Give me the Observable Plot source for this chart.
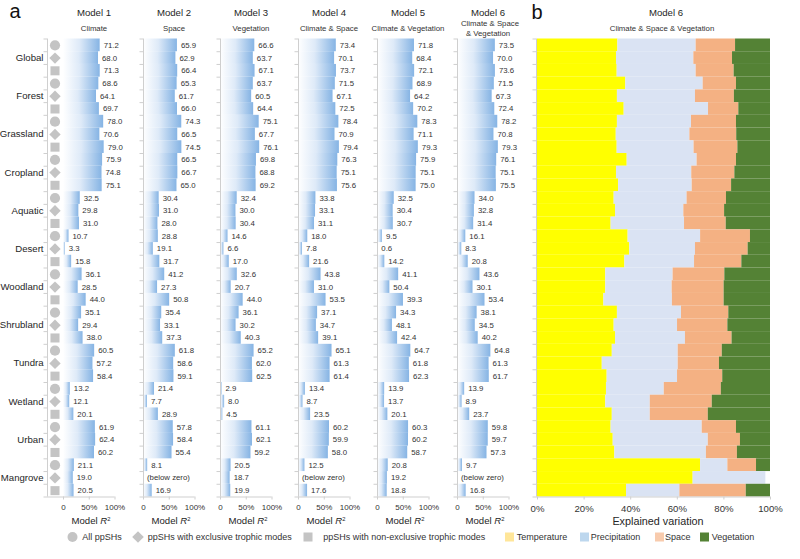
<!DOCTYPE html>
<html><head><meta charset="utf-8">
<script src="https://cdn.jsdelivr.net/npm/d3@7"></script>
<script src="https://cdn.jsdelivr.net/npm/@observablehq/plot@0.6"></script>
<style>
html,body{margin:0;padding:0;background:#fff;}
#root{position:relative;width:800px;height:559px;overflow:hidden;font-family:'Liberation Sans',Arial,sans-serif;color:#333;}
.t{position:absolute;white-space:nowrap;line-height:1;}
</style></head><body><div id="root"></div>
<script>
// ---------------- DATA ----------------
const categories = ["Global","Forest","Grassland","Cropland","Aquatic","Desert","Woodland","Shrubland","Tundra","Wetland","Urban","Mangrove"];
const groups = ["All ppSHs","ppSHs with exclusive trophic modes","ppSHs with non-exclusive trophic modes"];
const modelNames = ["Model 1","Model 2","Model 3","Model 4","Model 5","Model 6"];
const modelSubtitles = [["Climate"],["Space"],["Vegetation"],["Climate & Space"],["Climate & Vegetation"],["Climate & Space","& Vegetation"]];

// Model R2 (%) per row: category x (all, exclusive, non-exclusive); null = below zero
const model1 = [71.2,68.0,71.3, 68.6,64.1,69.7, 78.0,70.6,79.0, 75.9,74.8,75.1, 32.5,29.8,31.0, 10.7,3.3,15.8, 36.1,28.5,44.0, 35.1,29.4,38.0, 60.5,57.2,58.4, 13.2,12.1,20.1, 61.9,62.4,60.2, 21.1,19.0,20.5];
const model2 = [65.9,62.9,66.4, 65.3,61.7,66.0, 74.3,66.5,74.5, 66.5,66.7,65.0, 30.4,31.0,28.0, 28.8,19.1,31.7, 41.2,27.3,50.8, 35.4,33.1,37.3, 61.8,58.6,59.1, 21.4,7.7,28.9, 57.8,58.4,55.4, 8.1,null,16.9];
const model3 = [66.6,63.7,67.1, 63.7,60.5,64.4, 75.1,67.7,76.1, 69.8,68.8,69.2, 32.4,30.0,30.4, 14.6,6.6,17.0, 32.6,20.7,44.0, 36.1,30.2,40.3, 65.2,62.0,62.5, 2.9,8.0,4.5, 61.1,62.1,59.2, 20.5,18.7,19.9];
const model4 = [73.4,70.1,73.7, 71.5,67.1,72.5, 78.4,70.9,79.4, 76.3,75.1,75.6, 33.8,33.1,31.1, 18.0,7.8,21.6, 43.8,31.0,53.5, 37.1,34.7,39.1, 65.1,61.3,61.4, 13.4,8.7,23.5, 60.2,59.9,58.0, 12.5,null,17.6];
// Model 5: bar lengths as drawn, and the printed labels (which differ for Woodland/Shrubland in the figure)
const model5 = [71.8,68.4,72.1, 68.9,64.2,70.2, 78.3,71.1,79.3, 75.9,75.1,75.0, 32.5,30.4,30.7, 9.5,0.6,14.2, 41.1,24.0,50.4, 37.0,29.0,39.0, 64.7,61.8,62.3, 13.9,13.7,20.1, 60.3,60.2,58.7, 20.8,19.2,18.8];
const model5Labels = ["71.8","68.4","72.1","68.9","64.2","70.2","78.3","71.1","79.3","75.9","75.1","75.0","32.5","30.4","30.7","9.5","0.6","14.2","41.1","50.4","39.3","34.3","48.1","42.4","64.7","61.8","62.3","13.9","13.7","20.1","60.3","60.2","58.7","20.8","19.2","18.8"];
const model6 = [73.5,70.0,73.6, 71.5,67.3,72.4, 78.2,70.8,79.3, 76.1,75.1,75.5, 34.0,32.8,31.4, 16.1,8.3,20.8, 43.6,30.1,53.4, 38.1,34.5,40.2, 64.8,61.3,61.7, 13.9,8.9,23.7, 59.8,59.7,57.3, 9.7,null,16.8];
const r2Ticks = [0,50,100];

// Panel b: explained variation (%) per row
const components = ["Temperature","Precipitation","Space","Vegetation"];
const temperature   = [34.5,33.9,34.2, 37.9,34.3,37.2, 34.3,33.8,34.2, 38.5,33.9,34.8, 32.9,33.5,31.6, 38.9,39.6,37.5, 29.3,29.3,28.5, 34.3,32.9,33.5, 32.1,27.8,29.9, 29.6,29.3,32.1, 31.6,32.5,33.2, 70.0,66.8,38.2];
const precipitation = [33.6,33.2,33.9, 33.2,33.5,36.2, 31.8,31.6,33.0, 30.0,32.3,31.6, 31.3,29.3,31.5, 31.1,28.2,29.9, 28.9,28.5,29.4, 27.5,27.2,30.0, 28.3,32.6,30.2, 24.8,19.1,16.3, 39.1,40.8,39.3, 11.7,31.2,22.9];
const space         = [16.9,16.6,16.3, 14.3,16.7,13.0, 19.3,20.1,18.8, 16.9,18.5,16.9, 16.9,17.5,17.9, 21.4,22.6,20.3, 22.2,22.3,22.2, 20.3,21.6,20.0, 18.9,17.7,19.4, 24.5,26.6,24.9, 14.7,13.8,13.3, 12.3,0.0,28.5];
const vegetation    = [15.0,16.3,15.6, 14.6,15.5,13.6, 14.6,14.5,14.0, 14.6,15.3,16.7, 18.9,19.7,19.0, 8.6,9.6,12.3, 19.6,19.9,19.9, 17.9,18.3,16.5, 20.7,21.9,20.5, 21.1,25.0,26.7, 14.6,12.9,14.2, 6.0,0.0,10.4];
const variationTicks = [0,20,40,60,80,100];

// ---------------- LAYOUT ----------------
const root = document.getElementById("root");
root.insertAdjacentHTML("beforeend", `<svg width="0" height="0" style="position:absolute;left:0;top:0"><defs>
<linearGradient id="barGrad" x1="0" y1="0" x2="1" y2="0">
<stop offset="0" stop-color="#ffffff"/><stop offset="0.45" stop-color="#deeaf8"/><stop offset="1" stop-color="#86b4e4"/>
</linearGradient></defs></svg>`);

const H = 515, MT = 38.5, MB = 18.5, XW = 51.5, ROWPX = (H - MT - MB) / 36;
const zeroX = [63, 143, 220, 298, 377, 457];
const FONT = "'Liberation Sans', Arial, sans-serif";
const AX = "#cfcfcf";

function place(el, left, top) {
  el.style.position = "absolute"; el.style.left = left + "px"; el.style.top = top + "px";
  root.appendChild(el);
}
function text(html, x, y, size, anchor = "middle", extra = "") {
  const d = document.createElement("div");
  d.className = "t";
  d.innerHTML = html;
  d.style.left = x + "px"; d.style.top = y + "px"; d.style.fontSize = size + "px";
  d.style.transform = anchor === "middle" ? "translate(-50%,-50%)" : anchor === "end" ? "translate(-100%,-50%)" : "translate(0,-50%)";
  if (extra) d.style.cssText += extra;
  root.appendChild(d);
}

const modelValues = [model1, model2, model3, model4, model5, model6];
const pxToData = px => px / XW * 100;

modelValues.forEach((values, k) => {
  const first = k === 0;
  const ml = first ? 63 : 6, mr = 22;
  const rows = values.map((v, i) => ({
    i, v, cat: categories[Math.floor(i / 3)], grp: groups[i % 3],
    label: k === 4 ? model5Labels[i] : (v == null ? "(below zero)" : v.toFixed(1))
  }));
  const axisX = first ? pxToData(47 - 63) : 0;
  const bounds = d3.range(37).map(j => j - 0.5);
  const marks = [
    Plot.rect(rows.filter(d => d.v != null), {x1: 0, x2: "v", y1: d => d.i - 0.5, y2: d => d.i + 0.5, fill: "url(#barGrad)"}),
    Plot.text(rows, {x: d => d.v ?? 0, y: "i", text: "label", dx: 3.5, textAnchor: "start", fontSize: 7.8, fill: "#333"}),
    Plot.ruleX([axisX], {y1: -0.5, y2: 35.5, stroke: AX}),
    Plot.ruleY(bounds, {x1: axisX - pxToData(3.5), x2: axisX, stroke: AX}),
    Plot.ruleY([35.5], {x1: axisX, x2: 100, stroke: AX}),
    Plot.ruleX(r2Ticks, {y1: 35.5, y2: 35.5 + 3 / ROWPX, stroke: AX})
  ];
  if (first) {
    const symbols = ["circle", "diamond2", "square"];
    symbols.forEach((s, g) => {
      marks.push(Plot.dot(rows.filter(d => d.i % 3 === g), {x: pxToData(54.5 - 63), y: "i", symbol: s, r: 5.1, fill: "#c4c4c4", stroke: "none"}));
    });
    marks.push(Plot.text(rows.filter(d => d.i % 3 === 1), {x: pxToData(43 - 63), y: "i", text: "cat", textAnchor: "end", fontSize: 9.6, fill: "#262626"}));
  }
  const svg = Plot.plot({
    width: ml + XW + mr, height: H,
    marginTop: MT, marginBottom: MB, marginLeft: ml, marginRight: mr,
    x: {domain: [0, 100], ticks: r2Ticks, tickFormat: d => d === 0 ? "0" : d + "%", tickSize: 0, tickPadding: 7, label: null},
    y: {domain: [-0.5, 35.5], reverse: true, axis: null},
    style: {background: "none", overflow: "visible", fontFamily: FONT, fontSize: "8px", color: "#333"},
    marks
  });
  place(svg, zeroX[k] - ml, 0);

  text(modelNames[k], zeroX[k] + 31, 12.7, 9.6, "middle", "color:#262626");
  const subs = modelSubtitles[k];
  if (subs.length === 1) text(subs[0], zeroX[k] + 31, 29, 7.8);
  else { text(subs[0], zeroX[k] + 33, 23.5, 7.8); text(subs[1], zeroX[k] + 31, 33.5, 7.8); }
  text('Model <i>R</i><sup style="font-size:0.6em;vertical-align:0.55em">2</sup>', zeroX[k] + 28, 520.7, 9.6, "middle", "color:#262626");
});

// ---------------- PANEL B ----------------
{
  const series = [temperature, precipitation, space, vegetation];
  const long = [];
  d3.range(36).forEach(i => {
    let acc = 0;
    series.forEach((arr, c) => {
      long.push({i, comp: components[c], x1: acc, x2: acc + arr[i]});
      acc += arr[i];
    });
  });
  const W = 233, ml = 8, mr = 16;
  const px = p => p / W * 100;
  const axisX = px(-1);
  const svg = Plot.plot({
    width: ml + W + mr, height: H,
    marginTop: MT, marginBottom: MB, marginLeft: ml, marginRight: mr,
    x: {domain: [0, 100], ticks: variationTicks, tickFormat: d => d + "%", tickSize: 0, tickPadding: 8.5, label: null},
    y: {domain: [-0.5, 35.5], reverse: true, axis: null},
    color: {domain: components, range: ["#ffff00", "#dae3f3", "#f4b183", "#548235"]},
    style: {background: "none", overflow: "visible", fontFamily: FONT, fontSize: "9.6px", color: "#333"},
    marks: [
      Plot.rect(long.filter(d => d.x2 > d.x1), {x1: "x1", x2: "x2", y1: d => d.i - 0.5, y2: d => d.i + 0.5, fill: "comp"}),
      Plot.ruleX([axisX], {y1: -0.5, y2: 35.5, stroke: AX}),
      Plot.ruleY(d3.range(37).map(j => j - 0.5), {x1: axisX - px(3.5), x2: axisX, stroke: AX}),
      Plot.ruleY([35.5], {x1: axisX, x2: 100, stroke: AX}),
      Plot.ruleX(variationTicks, {y1: 35.5, y2: 35.5 + 3 / ROWPX, stroke: AX})
    ]
  });
  place(svg, 537 - ml, 0);
  text("Model 6", 666, 12.7, 9.6, "middle", "color:#262626");
  text("Climate &amp; Space &amp; Vegetation", 662, 29, 7.8);
  text("Explained variation", 658, 520.5, 10.8, "middle", "color:#262626");
}

// panel letters
text("a", 15, 11.4, 20, "middle", "color:#111");
text("b", 537, 12, 20, "middle", "color:#111");

// ---------------- LEGEND ----------------
root.insertAdjacentHTML("beforeend", `<svg width="800" height="20" style="position:absolute;left:0;top:527">
<circle cx="72.5" cy="10" r="5" fill="#c4c4c4"/>
<path d="M138 4.2 L143.8 10 L138 15.8 L132.2 10 Z" fill="#c4c4c4"/>
<rect x="303.5" y="5.5" width="9" height="9" fill="#c4c4c4"/>
<rect x="505" y="5.5" width="9" height="9" fill="#ffe699"/>
<rect x="580" y="5.5" width="9" height="9" fill="#bdd7ee"/>
<rect x="655" y="5.5" width="9" height="9" fill="#f8cbad"/>
<rect x="700" y="5.5" width="9" height="9" fill="#548235"/>
</svg>`);
text(groups[0], 82.3, 537, 9, "start");
text(groups[1], 147.7, 537, 9, "start");
text(groups[2], 323.3, 537, 9, "start");
text(components[0], 516.7, 537, 9, "start");
text(components[1], 590.7, 537, 9, "start");
text(components[2], 665, 537, 9, "start");
text(components[3], 711.7, 537, 9, "start");
</script></body></html>
